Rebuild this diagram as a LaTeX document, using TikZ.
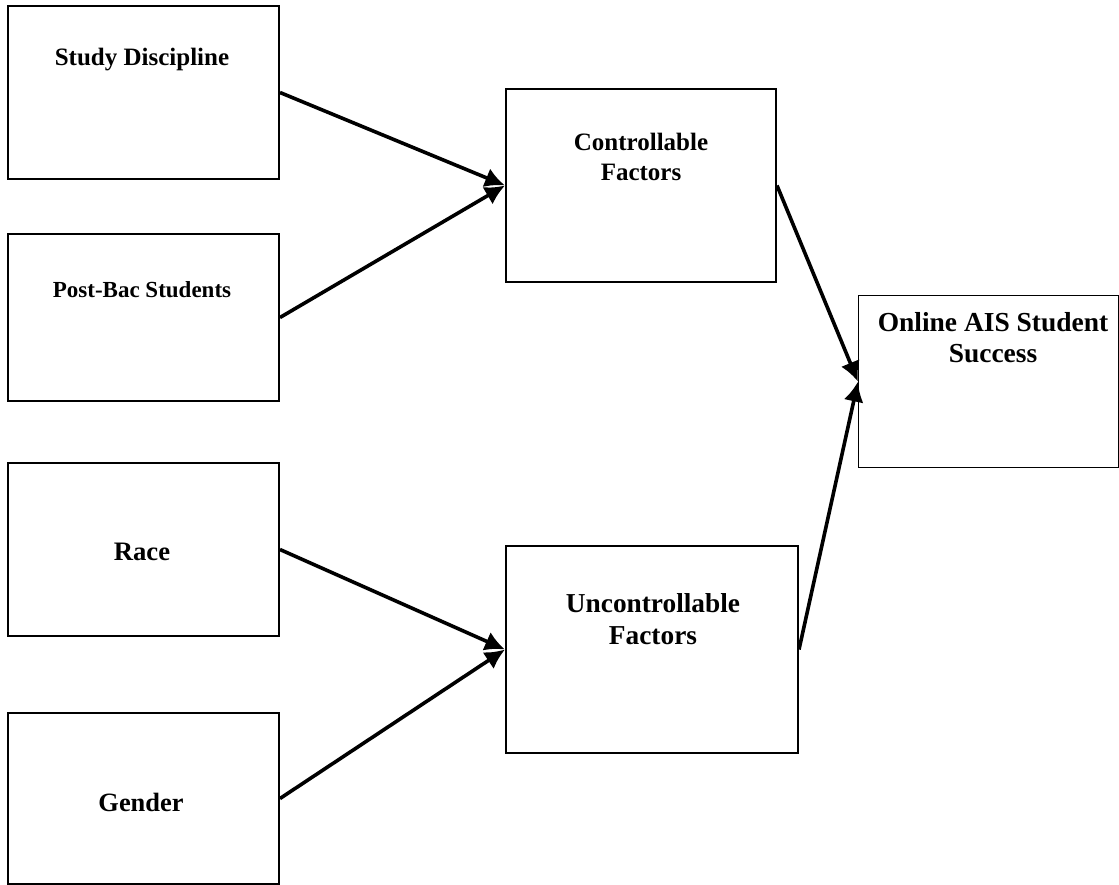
\documentclass[tikz,border=0pt]{standalone}
\usepackage{fontspec}
\setmainfont{Liberation Serif}
\usetikzlibrary{arrows.meta, positioning}

\tikzset{
  factorbox/.style={draw, line width=1.5pt, anchor=north west, inner sep=0pt},
  linkarrow/.style={line width=2.7pt, -{Latex[length=15pt,width=15pt]}},
  boxtext/.style={align=center, inner sep=0pt},
}

\begin{document}
\begin{tikzpicture}[x=0.75pt,y=0.75pt,yscale=-1,xscale=1]
\useasboundingbox (0,0) rectangle (1119,884);

%Shape: Rectangle [Study Discipline]
\node (study) [factorbox, minimum width=203.25pt, minimum height=129.75pt] at (7,5) {};
%Shape: Rectangle [Post-Bac Students]
\node (postbac) [factorbox, minimum width=203.25pt, minimum height=125.25pt] at (7,233) {};
%Shape: Rectangle [Race]
\node (race) [factorbox, minimum width=203.25pt, minimum height=129.75pt] at (7,462) {};
%Shape: Rectangle [Gender]
\node (gender) [factorbox, minimum width=203.25pt, minimum height=128.25pt] at (7,712) {};
%Shape: Rectangle [Controllable]
\node (ctrl) [factorbox, minimum width=202.5pt, minimum height=144.75pt] at (505,88) {};
%Shape: Rectangle [Uncontrollable]
\node (unctrl) [factorbox, minimum width=219pt, minimum height=155.25pt] at (505,545) {};
%Shape: Rectangle [Success]
\node (success) [factorbox, line width=0.9pt, minimum width=195pt, minimum height=129pt] at (858,295) {};

%Straight Lines
\draw [linkarrow] (study.east) -- (ctrl.west);
\draw [linkarrow] (postbac.east) -- (ctrl.west);
\draw [linkarrow] (race.east) -- (unctrl.west);
\draw [linkarrow] (gender.east) -- (unctrl.west);
\draw [linkarrow] (ctrl.east) -- (success.west);
\draw [linkarrow] (unctrl.east) -- (success.west);

% Text Node
\draw (142,60) node (studytext) [boxtext, font=\bfseries\fontsize{18.75}{22.5}\selectfont] {Study Discipline};
% Text Node
\draw (142,290) node (postbactext) [boxtext, font=\bfseries\fontsize{17.25}{21}\selectfont] {Post-Bac Students};
% Text Node
\draw (142,552) node (racetext) [boxtext, font=\bfseries\fontsize{20}{24}\selectfont] {Race};
% Text Node
\draw (141,802) node (gendertext) [boxtext, font=\bfseries\fontsize{19.8}{24}\selectfont] {Gender};
% Text Node
\draw (641,157) node (ctrltext) [boxtext, font=\bfseries\fontsize{18.75}{22.5}\selectfont] {Controllable\\Factors};
% Text Node
\draw (653,619) node (unctrltext) [boxtext, font=\bfseries\fontsize{20.5}{24}\selectfont] {Uncontrollable\\Factors};
% Text Node
\draw (993,338) node (successtext) [boxtext, font=\bfseries\fontsize{20.6}{23.25}\selectfont] {Online AIS Student\\Success};

\end{tikzpicture}
\end{document}
